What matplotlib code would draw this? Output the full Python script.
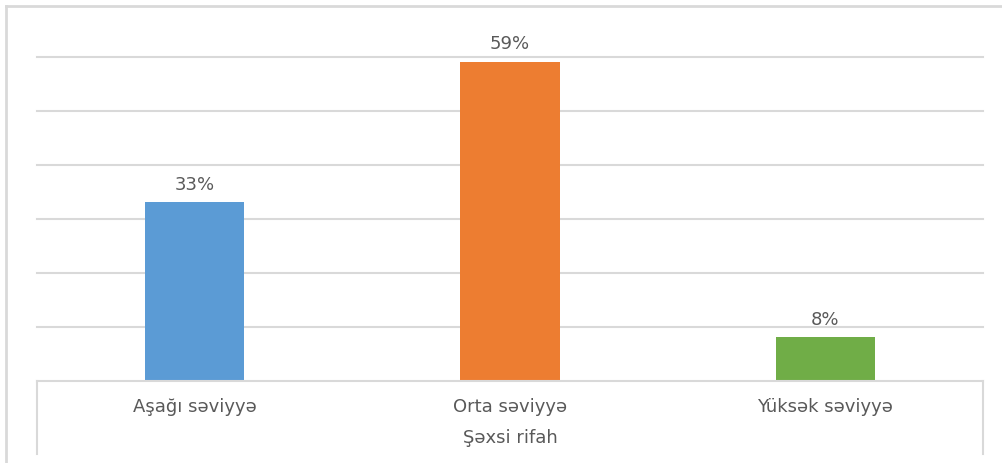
import matplotlib
matplotlib.use("Agg")
import matplotlib.pyplot as plt
from matplotlib.lines import Line2D

categories = ["Aşağı səviyyə", "Orta səviyyə", "Yüksək səviyyə"]
values = [0.33, 0.59, 0.08]
labels = ["33%", "59%", "8%"]
colors = ["#5B9BD5", "#ED7D31", "#70AD47"]
axis_title = "Şəxsi rifah"

W, H = 1003, 464
plt.rcParams['font.family'] = ['DejaVu Sans']
text_color = "#595959"
grid_color = "#D9D9D9"
fsize = 13

fig = plt.figure(figsize=(W / 100, H / 100), dpi=100)
left, right, top, bottom = 37, 983, 57.5, 381.5
ax = fig.add_axes([left / W, 1 - bottom / H, (right - left) / W, (bottom - top) / H])

x = range(len(categories))
ax.bar(x, values, width=0.314, color=colors, zorder=3)
for xi, v, lab in zip(x, values, labels):
    ax.text(xi, v + 0.018, lab, ha='center', va='bottom', fontsize=fsize,
            color=text_color, clip_on=False)

ax.set_xlim(-0.5, len(categories) - 0.5)
ax.set_ylim(0, 0.6)
ax.set_yticks([i / 10 for i in range(1, 7)])
ax.yaxis.grid(True, color=grid_color, linewidth=1.5, zorder=0)
for gl in ax.get_ygridlines():
    gl.set_clip_on(False)
ax.tick_params(left=False, labelleft=False, bottom=False, labelbottom=False)
for s in ax.spines.values():
    s.set_visible(False)

# category labels and axis title below the plot area
for xi, cat in zip(x, categories):
    ax.text(xi, -0.048, cat, ha='center', va='center', fontsize=fsize,
            color=text_color, clip_on=False)
ax.text(1, -0.104, axis_title, ha='center', va='center', fontsize=fsize,
        color=text_color, clip_on=False)

def fig_line(xs, ys, color=grid_color, lw=1.5):
    fig.add_artist(Line2D([p / W for p in xs], [1 - p / H for p in ys],
                          color=color, linewidth=lw))

# baseline and category box
fig_line([left, right], [bottom, bottom])
fig_line([left, left], [bottom, 455])
fig_line([right, right], [bottom, 455])
# outer chart frame (cropped)
fig_line([6, 6], [7, H], lw=2)
fig_line([6, W], [7, 7], lw=2)

fig.savefig("out.png", dpi=100)
